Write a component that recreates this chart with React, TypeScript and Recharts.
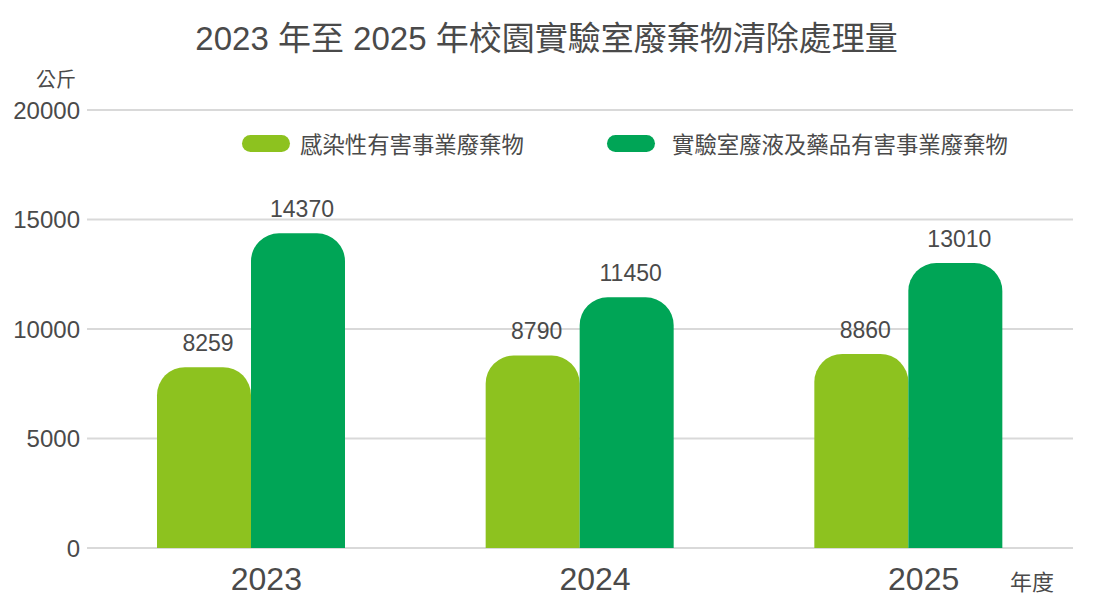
import { BarChart, Bar, XAxis, YAxis, CartesianGrid, LabelList } from "recharts";

const years = ["2023", "2024", "2025"];
const infectious = [8259, 8790, 8860];
const labChemical = [14370, 11450, 13010];
const yTicks = [0, 5000, 10000, 15000, 20000];

const SERIES = [
  { key: "infectious", name: "感染性有害事業廢棄物", color: "#8DC21F" },
  { key: "labChemical", name: "實驗室廢液及藥品有害事業廢棄物", color: "#00A556" },
];

const FONT = '"Liberation Sans", "Noto Sans CJK TC", sans-serif';
const TEXT = "#4a4a4a";

// legend drawn as html, the built-in one takes room from the plot
function LegendBox() {
  const pos = [242, 607];
  const gap = [10, 17];
  return (
    <>
      {SERIES.map((s, i) => (
        <div key={s.key} style={{ position: "absolute", top: 127, left: pos[i], display: "flex", alignItems: "center", fontSize: 22.4, color: TEXT }}>
          <span style={{ display: "inline-block", width: 48, height: 17, borderRadius: 9, background: s.color, marginRight: gap[i] }} />
          <span>{s.name}</span>
        </div>
      ))}
    </>
  );
}

export default function App() {
  const data = years.map((y, i) => ({ year: y, infectious: infectious[i], labChemical: labChemical[i] }));

  return (
    <div style={{ position: "absolute", left: 0, top: 0, width: 1093, height: 610, background: "#fff", fontFamily: FONT }}>
      <BarChart width={1093} height={610} data={data} margin={{ top: 110, right: 20, left: 0, bottom: 0 }} barGap={0} barSize={94}>
        <CartesianGrid vertical={false} stroke="#d9d9d9" strokeWidth={2} />
        <XAxis
          dataKey="year"
          axisLine={false}
          tickLine={false}
          tickSize={0}
          tickMargin={19}
          height={62}
          tick={{ fontSize: 32, fill: TEXT, dx: 15 }}
        />
        <YAxis
          domain={[0, 20000]}
          ticks={yTicks}
          axisLine={false}
          tickLine={false}
          tickSize={0}
          tickMargin={7}
          width={87}
          tick={{ fontSize: 24, fill: TEXT }}
        />
        {SERIES.map((s) => (
          <Bar key={s.key} dataKey={s.key} name={s.name} fill={s.color} radius={[28, 28, 0, 0]} isAnimationActive={false}>
            <LabelList dataKey={s.key} position="top" offset={16} dx={4} style={{ fontSize: 23, fill: TEXT }} />
          </Bar>
        ))}
      </BarChart>
      <div style={{ position: "absolute", top: 12, left: 0, width: 1093, textAlign: "center", fontSize: 33, color: TEXT }}>
        2023 年至 2025 年校園實驗室廢棄物清除處理量
      </div>
      <div style={{ position: "absolute", top: 64, left: 36, fontSize: 20, color: TEXT }}>公斤</div>
      <div style={{ position: "absolute", top: 564, left: 1010, fontSize: 22, color: TEXT }}>年度</div>
      <LegendBox />
    </div>
  );
}
